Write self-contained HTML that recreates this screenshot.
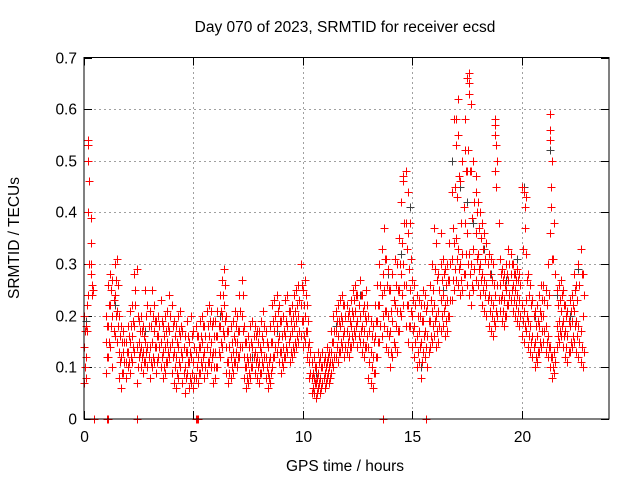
<!DOCTYPE html>
<html><head><meta charset="utf-8"><style>
html,body{margin:0;padding:0;background:#fff}
svg{display:block;font-family:"Liberation Sans",sans-serif}
</style></head><body>
<svg id="chart" width="640" height="480" viewBox="0 0 640 480" xmlns="http://www.w3.org/2000/svg">
<rect width="640" height="480" fill="#fff"/>
<text x="345" y="32" font-size="15.5" text-anchor="middle">Day 070 of 2023, SRMTID for receiver ecsd</text>
<text transform="translate(19,238) rotate(-90)" font-size="15.5" text-anchor="middle">SRMTID / TECUs</text>
<text x="345" y="471" font-size="15.5" text-anchor="middle">GPS time / hours</text>
<g id="grid"></g>
<g id="ticks"></g>
<g id="black"></g>
<g id="red"></g>
<rect x="84" y="57.5" width="525" height="361.5" fill="none" stroke="#000" stroke-width="1"/>
</svg>
<script>
const xTicks=[0,5,10,15,20];
const yTicks=[0,0.1,0.2,0.3,0.4,0.5,0.6,0.7];
const yTickLabels=["0","0.1","0.2","0.3","0.4","0.5","0.6","0.7"];
const hours=[];for(let i=0;i<=228;i++)hours.push(i/10);
const hoursB=[];for(let i=0;i<=228;i++)hoursB.push(i/10+0.05);
const redLo=[0.07,0.08,0.24,0.28,0.25,null,null,null,null,null,
0.09,0.12,0.14,0.10,0.16,0.15,0.08,0.06,0.09,0.08,
0.10,0.09,0.11,0.13,0.07,0.12,0.10,0.09,0.11,0.10,
0.08,0.10,0.11,0.09,0.12,0.10,0.08,0.09,0.11,0.12,
0.09,0.07,0.06,0.08,0.10,0.07,0.05,0.09,0.06,0.07,
0.06,0.08,0.07,0.09,0.10,0.08,0.09,0.11,0.10,0.07,
0.08,0.10,0.12,0.14,0.16,0.09,0.07,0.08,0.09,0.11,
0.10,0.12,0.14,0.08,0.06,0.07,0.08,0.10,0.09,0.08,
0.07,0.09,0.10,0.08,0.06,0.07,0.10,0.12,0.13,0.11,
0.09,0.10,0.12,0.13,0.11,0.12,0.13,0.14,0.15,0.16,
0.14,0.15,0.12,0.08,0.05,0.05,0.04,0.06,0.05,0.07,
0.06,0.08,0.07,0.09,0.10,0.12,0.11,0.13,0.14,0.12,
0.13,0.12,0.14,0.15,0.16,0.14,0.15,0.13,0.12,0.14,
0.08,0.07,0.06,0.09,0.12,0.15,0.16,0.18,0.14,0.13,
0.10,0.12,0.14,0.13,0.17,0.20,0.22,0.18,0.15,0.18,
0.14,0.12,0.10,0.11,0.08,0.13,0.12,0.10,0.14,0.15,
0.16,0.14,0.15,0.17,0.18,0.16,0.17,0.20,0.23,0.25,
0.27,0.26,0.24,0.25,0.28,0.26,0.24,0.22,0.25,0.27,
0.26,0.24,0.22,0.21,0.20,0.18,0.17,0.16,0.18,0.20,
0.21,0.19,0.18,0.20,0.22,0.23,0.21,0.20,0.19,0.18,
0.16,0.15,0.17,0.14,0.13,0.12,0.10,0.11,0.13,0.14,
0.15,0.13,0.12,0.10,0.08,0.09,0.14,0.15,0.16,0.14,
0.12,0.11,0.13,0.14,0.15,0.13,0.12,0.11,0.10];
const redMid=[0.14,0.12,0.40,0.30,null,null,null,null,null,null,
0.15,0.18,0.22,0.20,0.24,0.21,0.13,0.12,0.13,0.11,
0.13,0.15,0.16,0.18,0.14,0.15,0.14,0.13,0.15,0.14,
0.14,0.15,0.17,0.14,0.16,0.15,0.13,0.14,0.15,0.17,
0.15,0.13,0.12,0.14,0.16,0.12,0.10,0.13,0.11,0.12,
0.11,0.13,0.12,0.14,0.15,0.13,0.14,0.16,0.15,0.13,
0.13,0.16,0.18,0.20,0.22,0.14,0.11,0.12,0.13,0.15,
0.15,0.17,0.20,0.12,0.10,0.11,0.12,0.14,0.13,0.12,
0.11,0.13,0.15,0.12,0.09,0.12,0.15,0.17,0.18,0.16,
0.13,0.14,0.16,0.18,0.16,0.17,0.18,0.19,0.20,0.22,
0.19,0.20,0.17,0.11,0.08,0.08,0.07,0.09,0.08,0.10,
0.09,0.11,0.10,0.13,0.15,0.17,0.16,0.18,0.19,0.17,
0.17,0.16,0.18,0.20,0.21,0.19,0.20,0.18,0.17,0.19,
0.14,0.13,0.12,0.16,0.19,0.22,0.24,0.25,0.21,0.20,
0.17,0.19,0.22,0.21,0.25,0.28,0.30,0.26,0.22,0.25,
0.20,0.18,0.16,0.17,0.15,0.19,0.17,0.16,0.19,0.21,
0.22,0.20,0.21,0.23,0.24,0.22,0.23,0.27,0.31,0.34,
0.35,0.33,0.30,0.32,0.38,0.36,0.32,0.30,0.33,0.36,
0.32,0.30,0.28,0.27,0.26,0.24,0.23,0.22,0.24,0.26,
0.26,0.24,0.23,0.25,0.27,0.28,0.26,0.25,0.24,0.23,
0.22,0.21,0.23,0.19,0.18,0.16,0.15,0.16,0.18,0.20,
0.20,0.18,0.16,0.14,0.12,0.13,0.18,0.19,0.21,0.19,
0.17,0.16,0.18,0.19,0.21,0.19,0.18,0.17,0.20];
const redHi=[0.20,0.18,0.53,0.34,null,null,null,null,null,null,
0.20,0.26,0.28,0.27,0.30,0.31,0.20,0.18,0.17,0.15,
0.18,0.21,0.22,0.28,0.29,0.19,0.20,0.18,0.25,0.22,
0.21,0.25,0.22,0.19,0.20,0.23,0.18,0.20,0.21,0.24,
0.22,0.19,0.18,0.20,0.21,0.17,0.16,0.19,0.15,0.20,
0.17,0.18,0.16,0.19,0.20,0.18,0.21,0.22,0.21,0.19,
0.19,0.21,0.24,0.27,0.29,0.20,0.17,0.18,0.19,0.21,
0.20,0.24,0.27,0.18,0.15,0.16,0.18,0.19,0.18,0.17,
0.17,0.19,0.21,0.17,0.14,0.18,0.22,0.23,0.24,0.22,
0.19,0.20,0.23,0.24,0.21,0.22,0.24,0.25,0.26,0.30,
0.25,0.27,0.22,0.15,0.11,0.12,0.10,0.13,0.12,0.13,
0.12,0.14,0.13,0.17,0.20,0.21,0.22,0.23,0.24,0.22,
0.22,0.21,0.23,0.25,0.26,0.24,0.27,0.24,0.22,0.25,
0.20,0.19,0.18,0.22,0.26,0.30,0.33,0.37,0.31,0.29,
0.25,0.28,0.31,0.30,0.35,0.42,0.47,0.48,0.36,0.38,
0.27,0.26,0.24,0.23,0.22,0.25,0.24,0.22,0.26,0.30,
0.37,0.34,0.28,0.30,0.31,0.29,0.30,0.34,0.44,0.58,
0.53,0.62,0.46,0.50,0.58,0.66,0.63,0.48,0.50,0.44,
0.42,0.40,0.38,0.36,0.34,0.32,0.31,0.30,0.57,0.50,
0.31,0.29,0.28,0.30,0.33,0.32,0.30,0.28,0.29,0.28,
0.45,0.44,0.32,0.28,0.26,0.23,0.21,0.22,0.24,0.26,
0.26,0.25,0.30,0.59,0.50,0.38,0.25,0.26,0.27,0.25,
0.22,0.21,0.23,0.24,0.28,0.26,0.30,0.33,0.28];
const redB1=[0.10,0.17,0.30,0.26,null,null,null,null,null,null,
0.12,0.15,0.18,0.23,0.20,0.26,0.11,0.09,0.11,0.13,
0.11,0.12,0.14,0.22,0.10,0.17,0.12,0.11,0.13,0.12,
0.11,0.12,0.14,0.11,0.14,0.12,0.10,0.11,0.13,0.14,
0.12,0.10,0.09,0.11,0.13,0.09,0.08,0.11,0.08,0.09,
0.08,0.10,0.09,0.11,0.12,0.10,0.11,0.13,0.12,0.10,
0.10,0.13,0.15,0.17,0.19,0.11,0.09,0.10,0.11,0.13,
0.12,0.14,0.17,0.10,0.08,0.09,0.10,0.12,0.11,0.10,
0.09,0.11,0.12,0.10,0.08,0.09,0.12,0.14,0.15,0.13,
0.11,0.12,0.14,0.15,0.13,0.14,0.15,0.16,0.17,0.19,
0.16,0.17,0.14,0.09,0.06,0.07,0.05,0.07,0.06,0.08,
0.07,0.09,0.08,0.11,0.12,0.14,0.13,0.15,0.16,0.14,
0.15,0.14,0.16,0.17,0.18,0.16,0.17,0.15,0.14,0.16,
0.11,0.10,0.09,0.12,0.15,0.18,0.20,0.21,0.17,0.16,
0.13,0.15,0.18,0.17,0.21,0.24,0.26,0.22,0.18,0.21,
0.17,0.15,0.13,0.14,0.11,0.16,0.14,0.13,0.16,0.18,
0.19,0.17,0.18,0.20,0.21,0.19,0.20,0.23,0.27,0.29,
0.31,0.29,0.27,0.28,0.32,0.30,0.28,0.26,0.29,0.31,
0.29,0.27,0.25,0.24,0.23,0.21,0.20,0.19,0.21,0.23,
0.23,0.21,0.20,0.22,0.24,0.25,0.23,0.22,0.21,0.20,
0.19,0.18,0.20,0.16,0.15,0.14,0.12,0.13,0.15,0.17,
0.17,0.15,0.14,0.12,0.10,0.11,0.16,0.17,0.18,0.16,
0.14,0.13,0.15,0.16,0.18,0.16,0.15,0.14,0.13];
const redB2=[0.17,0.22,0.46,0.24,null,null,null,null,null,null,
0.18,0.22,0.25,0.17,0.27,0.18,0.16,0.15,0.15,0.13,
0.16,0.18,0.19,0.25,0.20,0.13,0.17,0.16,0.20,0.18,
0.18,0.20,0.19,0.16,0.18,0.19,0.16,0.17,0.18,0.20,
0.18,0.16,0.15,0.17,0.18,0.14,0.13,0.16,0.13,0.16,
0.14,0.16,0.14,0.16,0.18,0.16,0.18,0.19,0.18,0.16,
0.16,0.18,0.21,0.24,0.26,0.17,0.14,0.15,0.16,0.18,
0.17,0.21,0.24,0.15,0.12,0.14,0.15,0.16,0.16,0.15,
0.14,0.16,0.18,0.15,0.11,0.15,0.19,0.20,0.21,0.19,
0.16,0.17,0.19,0.21,0.19,0.20,0.21,0.22,0.23,0.26,
0.22,0.24,0.19,0.13,0.09,0.10,0.08,0.11,0.10,0.11,
0.10,0.12,0.11,0.15,0.17,0.19,0.19,0.20,0.22,0.20,
0.20,0.19,0.21,0.23,0.24,0.22,0.24,0.21,0.20,0.22,
0.17,0.16,0.15,0.19,0.22,0.26,0.28,0.31,0.26,0.25,
0.21,0.23,0.26,0.25,0.30,0.34,0.38,0.33,0.29,0.31,
0.23,0.22,0.20,0.20,0.19,0.22,0.21,0.19,0.23,0.25,
0.29,0.27,0.25,0.27,0.28,0.26,0.27,0.30,0.37,0.45,
0.43,0.47,0.38,0.41,0.48,0.52,0.48,0.39,0.42,0.40,
0.37,0.35,0.33,0.31,0.30,0.28,0.27,0.26,0.45,0.38,
0.28,0.27,0.26,0.28,0.30,0.30,0.28,0.27,0.27,0.26,
0.33,0.37,0.27,0.24,0.22,0.20,0.18,0.19,0.21,0.23,
0.23,0.22,0.24,0.45,0.31,0.28,0.22,0.23,0.24,0.22,
0.20,0.19,0.21,0.22,0.25,0.23,0.26,0.28,0.24];
const extraHours=[0.2,0.2,0.25,0.3,0.3,14.6,14.8,14.7,17.0,17.1,17.6,17.6,17.7,17.4,17.5,17.9,18.8,18.8,18.85,18.8,20.2,20.15,21.3,21.3,21.35,21.4,21.3,16.1,16.3,0.45,1.05,1.1,2.4,5.1,5.15,5.2,13.65,15.65];
const extraVals=[0.54,0.50,0.46,0.39,0.34,0.46,0.44,0.38,0.58,0.55,0.67,0.65,0.61,0.52,0.48,0.47,0.58,0.55,0.53,0.48,0.43,0.41,0.56,0.54,0.41,0.31,0.36,0.34,0.36,0,0,0,0,0,0,0,0,0];
const blackHours=[0.2,0.1,1.4,2.8,4.3,6.2,8.8,9.5,11.5,12.6,13.9,14.9,14.5,15.4,16.8,17.2,17.5,17.8,18.3,18.6,19.3,19.8,20.1,20.6,21.3,21.6,22.2,22.6,3.5,7.7,10.6,16.4];
const blackVals=[0.50,0.19,0.22,0.17,0.20,0.20,0.17,0.22,0.18,0.24,0.28,0.41,0.32,0.10,0.50,0.45,0.42,0.38,0.33,0.28,0.27,0.31,0.45,0.20,0.52,0.24,0.20,0.29,0.15,0.12,0.09,0.25];

const NS='http://www.w3.org/2000/svg';
const X0=84,X1=609,Y0=419,Y1=57.5;
function xs(h){return X0+(h/24)*(X1-X0);}
function ys(v){return Y0-(v/0.7)*(Y0-Y1);}
const grid=document.getElementById('grid'),ticks=document.getElementById('ticks');
function line(g,x1,y1,x2,y2,st,dash){const l=document.createElementNS(NS,'line');l.setAttribute('x1',x1);l.setAttribute('y1',y1);l.setAttribute('x2',x2);l.setAttribute('y2',y2);l.setAttribute('stroke',st);l.setAttribute('stroke-width',1);if(dash)l.setAttribute('stroke-dasharray',dash);g.appendChild(l);return l;}
yTicks.forEach((v,i)=>{const y=Math.round(ys(v))+0.5;
 if(i>0&&i<yTicks.length-1){const gl=line(grid,X0,y,X1,y,'#a0a0a0','2,3');
 
 }
 line(ticks,X0,y,X0+8,y,'#000');line(ticks,X1-8,y,X1,y,'#000');
 const t=document.createElementNS(NS,'text');t.setAttribute('x',X0-7);t.setAttribute('y',y+5);t.setAttribute('font-size','15.5');t.setAttribute('text-anchor','end');t.textContent=yTickLabels[i];
 
 
 ticks.appendChild(t);});
xTicks.forEach((h,i)=>{const x=Math.round(xs(h))+0.5;
 if(i>0){const gl=line(grid,x,Y0,x,Y1,'#a0a0a0','2,3');
 
 }
 line(ticks,x,Y0,x,Y0-8,'#000');line(ticks,x,Y1,x,Y1+8,'#000');
 const t=document.createElementNS(NS,'text');t.setAttribute('x',x);t.setAttribute('y',Y0+23);t.setAttribute('font-size','15.5');t.setAttribute('text-anchor','middle');t.textContent=String(h);
 
 
 ticks.appendChild(t);});
function plus(g,h,v,col){if(v===null||v===undefined)return;const x=Math.round(xs(h))+0.5,y=Math.round(ys(v))+0.5;const p=document.createElementNS(NS,'path');
 p.setAttribute('d',`M${x-4} ${y}H${x+4}M${x} ${y-4}V${y+4}`);p.setAttribute('stroke',col);p.setAttribute('stroke-width','1');p.setAttribute('fill','none');
 
 
 g.appendChild(p);}
const red=document.getElementById('red'),black=document.getElementById('black');
blackHours.forEach((h,i)=>plus(black,h,blackVals[i],'#404040'));
hours.forEach((h,i)=>{plus(red,h,redLo[i],'#ff0000');plus(red,h,redMid[i],'#ff0000');plus(red,h,redHi[i],'#ff0000');});
hoursB.forEach((h,i)=>{plus(red,h,redB1[i],'#ff0000');plus(red,h,redB2[i],'#ff0000');});
extraHours.forEach((h,i)=>plus(red,h,extraVals[i],'#ff0000'));
</script>
</body></html>
